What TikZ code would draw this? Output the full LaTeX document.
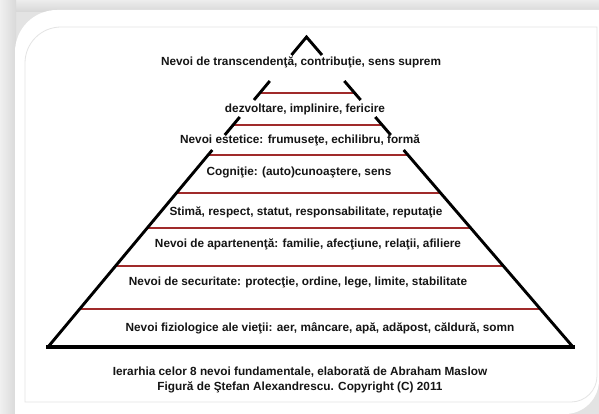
\documentclass[tikz,border=0pt]{standalone}
\usepackage{fontspec}
\setmainfont{Liberation Sans}
\usetikzlibrary{calc}
\definecolor{txt}{HTML}{151515}
\definecolor{redcore}{HTML}{A02A2A}
\definecolor{redhalo}{HTML}{EBC0C0}
\definecolor{frameline}{HTML}{E4E4E4}
\tikzset{
  lbl/.style={text=txt, font=\fontsize{11.8}{13}\selectfont\bfseries, inner sep=0pt, anchor=center},
  side/.style={draw=black, line width=2.9pt},
  baseline/.style={draw=black, line width=3.6pt},
  redhalo/.style={draw=redhalo, line width=2.8pt},
  redline/.style={draw=redcore, line width=1.1pt},
}
\begin{document}
\begin{tikzpicture}[x=1pt,y=-1pt]
\useasboundingbox (0,0) rectangle (599,414);
% shadows / background
\fill[gray!22] (0,0) rectangle (599,414);
\shade[top color=gray!14, bottom color=gray!32] (0,0) rectangle (599,12);
\shade[left color=gray!12, right color=gray!30] (0,0) rectangle (16,414);
% card
\fill[white] (15,414) [rounded corners=42pt] -- (15,10) [sharp corners] -- (599,10) [rounded corners=34pt] -- (599,414) [sharp corners] -- cycle;
% inner border
\draw[frameline, line width=0.8pt] (25,402) [rounded corners=36pt] -- (25,27) [sharp corners] -- (597,27) [rounded corners=26pt] -- (597,402) [sharp corners] -- cycle;

\coordinate (A) at (306.5,37);
\coordinate (L) at (48,347);
\coordinate (R) at (573,347);

% red dividers
\foreach \t in {0.1806,0.2839,0.3806,0.5032,0.6161,0.7387,0.8774} {
  \draw[redhalo] ($(A)!\t!(L)$) -- ($(A)!\t!(R)$);
  \draw[redline] ($(A)!\t!(L)$) -- ($(A)!\t!(R)$);
}

% pyramid sides
\draw[side, line join=miter] ($(A)!0.0581!(L)$) -- (A) -- ($(A)!0.0581!(R)$);
\draw[side] ($(A)!0.1419!(L)$) -- ($(A)!0.2032!(L)$);
\draw[side] ($(A)!0.1419!(R)$) -- ($(A)!0.2032!(R)$);
\draw[side] ($(A)!0.2581!(L)$) -- ($(A)!0.3161!(L)$);
\draw[side] ($(A)!0.2581!(R)$) -- ($(A)!0.3161!(R)$);
\draw[side] ($(A)!0.3645!(L)$) -- (L);
\draw[side] ($(A)!0.3645!(R)$) -- (R);
\draw[baseline] ($(L)+(-2,0)$) -- ($(R)+(2,0)$);

% labels
\node[lbl] (t1) at (301,62) {Nevoi de transcendenţă, contribuţie, sens suprem};
\node[lbl] (t2) at (305,109) {dezvoltare, implinire, fericire};
\node[lbl] (t3) at (300,140) {Nevoi estetice: frumuseţe, echilibru, formă};
\node[lbl] (t4) at (299,172) {Cogniţie: (auto)cunoaştere, sens};
\node[lbl] (t5) at (306,212) {Stimă, respect, statut, responsabilitate, reputaţie};
\node[lbl] (t6) at (308,244) {Nevoi de apartenenţă: familie, afecţiune, relaţii, afiliere};
\node[lbl] (t7) at (298,282) {Nevoi de securitate: protecţie, ordine, lege, limite, stabilitate};
\node[lbl] (t8) at (320,328) {Nevoi fiziologice ale vieţii: aer, mâncare, apă, adăpost, căldură, somn};
\node[lbl] (c1) at (300,372) {Ierarhia celor 8 nevoi fundamentale, elaborată de Abraham Maslow};
\node[lbl] (c2) at (300,387) {Figură de Ştefan Alexandrescu. Copyright (C) 2011};
\end{tikzpicture}
\end{document}
